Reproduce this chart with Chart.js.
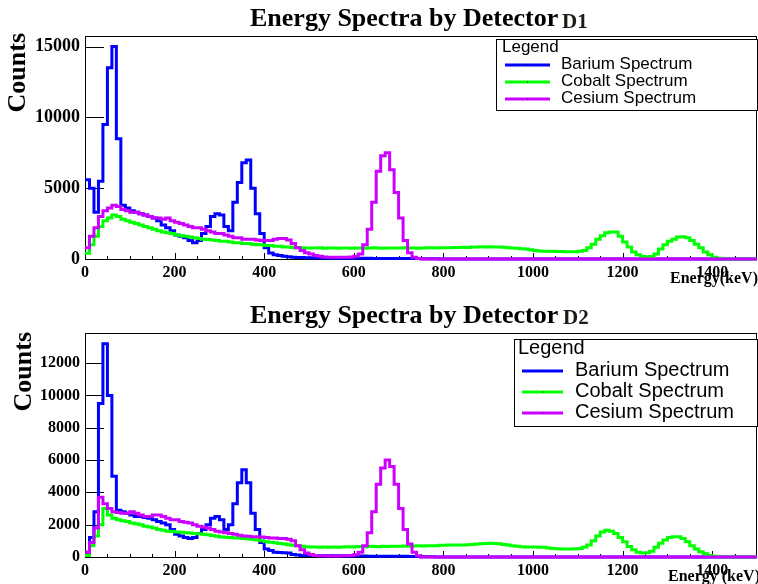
<!DOCTYPE html>
<html>
<head>
<meta charset="utf-8">
<script src="https://cdn.jsdelivr.net/npm/chart.js@4.4.1/dist/chart.umd.min.js"></script>
<style>
  html, body { margin: 0; padding: 0; background: #fff; }
  #wrap { position: relative; width: 758px; height: 584px; overflow: hidden; background: #fff; }
  canvas { position: absolute; left: 0; }
</style>
</head>
<body>
<div id="wrap">
  <canvas id="d1" width="758" height="292" style="top:0;width:758px;height:292px"></canvas>
  <canvas id="d2" width="758" height="292" style="top:292px;width:758px;height:292px"></canvas>
</div>
<script>
// Histogram binning: 150 bins of 10 keV from 0 to 1500 keV
const BIN_WIDTH = 10;
const ENERGY_MAX = 1500;

const seriesNames = ['Barium Spectrum', 'Cobalt Spectrum', 'Cesium Spectrum'];
const seriesColors = ['#0000ff', '#00ff00', '#cc00ff'];

const energyTicks = [0, 200, 400, 600, 800, 1000, 1200, 1400];
const d1CountTicks = [0, 5000, 10000, 15000];
const d2CountTicks = [0, 2000, 4000, 6000, 8000, 10000, 12000];
const d1CountMax = 15750;
const d2CountMax = 13860;

// ---- Detector D1 counts per bin ----
const d1Barium = [
  5600, 5000, 3300, 5500, 9500, 13500, 15000, 8500, 3800, 3600,
  3400, 3300, 3200, 3100, 3000, 2900, 2700, 2400, 2200, 2000,
  1700, 1600, 1500, 1300, 1150, 1300, 1800, 2300, 3000, 3200,
  3100, 2300, 2000, 4000, 5400, 6800, 7000, 5000, 3200, 1800,
  800, 420, 300, 250, 200, 160, 130, 110, 100, 90,
  80, 80, 70, 70, 70, 60, 60, 60, 60, 50,
  50, 50, 50, 50, 40, 40, 40, 40, 40, 40,
  40, 30, 30, 30, 30, 20, 20, 10, 10, 0,
  0, 0, 0, 0, 0, 0, 0, 0, 0, 0,
  0, 0, 0, 0, 0, 0, 0, 0, 0, 0,
  0, 0, 0, 0, 0, 0, 0, 0, 0, 0,
  0, 0, 0, 0, 0, 0, 0, 0, 0, 0,
  0, 0, 0, 0, 0, 0, 0, 0, 0, 0,
  0, 0, 0, 0, 0, 0, 0, 0, 0, 0,
  0, 0, 0, 0, 0, 0, 0, 0, 0, 0
];
const d1Cobalt = [
  400, 1000, 1600, 2300, 2700, 2900, 3100, 3000, 2800, 2700,
  2600, 2500, 2400, 2300, 2200, 2100, 2000, 1900, 1850, 1800,
  1700, 1650, 1600, 1550, 1500, 1450, 1400, 1380, 1350, 1300,
  1250, 1250, 1200, 1150, 1150, 1100, 1100, 1050, 1000, 1000,
  950, 950, 900, 900, 850, 850, 820, 800, 800, 780,
  780, 770, 790, 760, 780, 770, 760, 780, 770, 760,
  780, 770, 760, 780, 790, 770, 760, 780, 770, 780,
  770, 790, 780, 770, 760, 780, 790, 800, 780, 790,
  800, 790, 810, 820, 830, 820, 840, 850, 860, 850,
  860, 850, 840, 830, 800, 780, 760, 720, 700, 650,
  600, 560, 550, 540, 540, 530, 530, 520, 520, 520,
  540, 600, 800, 1050, 1400, 1650, 1850, 1900, 1900, 1600,
  1200, 850, 500, 300, 180, 150, 170, 350, 700, 1000,
  1250, 1400, 1550, 1580, 1500, 1300, 1050, 800, 500, 300,
  120, 50, 10, 0, 0, 0, 0, 0, 0, 0
];
const d1Cesium = [
  800, 1600, 2200, 3000, 3400, 3600, 3800, 3700, 3500, 3400,
  3300, 3300, 3200, 3100, 3000, 2900, 2900, 2800, 2900, 2700,
  2600, 2500, 2400, 2300, 2200, 2200, 2100, 2000, 1900, 1800,
  1800, 1700, 1600, 1500, 1500, 1400, 1400, 1400, 1350, 1300,
  1300, 1300, 1400, 1450, 1450, 1350, 1100, 800, 600, 450,
  350, 250, 200, 150, 130, 120, 120, 120, 130, 150,
  200, 350, 1000, 2100, 4000, 6200, 7300, 7500, 6300, 4700,
  2900, 1300, 450, 120, 30, 0, 0, 0, 0, 0,
  0, 0, 0, 0, 0, 0, 0, 0, 0, 0,
  0, 0, 0, 0, 0, 0, 0, 0, 0, 0,
  0, 0, 0, 0, 0, 0, 0, 0, 0, 0,
  0, 0, 0, 0, 0, 0, 0, 0, 0, 0,
  0, 0, 0, 0, 0, 0, 0, 0, 0, 0,
  0, 0, 0, 0, 0, 0, 0, 0, 0, 0,
  0, 0, 0, 0, 0, 0, 0, 0, 0, 0
];

// ---- Detector D2 counts per bin ----
const d2Barium = [
  300, 1200, 2800, 9500, 13200, 10000, 5000, 2900, 2800, 2700,
  2600, 2500, 2500, 2450, 2400, 2300, 2200, 2100, 2000, 1700,
  1400, 1300, 1200, 1150, 1200, 1450, 1700, 2000, 2400, 2500,
  2300, 1700, 2000, 3300, 4600, 5400, 4600, 2700, 1700, 900,
  500, 400, 300, 280, 260, 250, 150, 120, 100, 100,
  90, 90, 80, 80, 80, 70, 70, 70, 60, 60,
  60, 60, 60, 50, 50, 50, 50, 50, 50, 40,
  40, 40, 30, 30, 30, 20, 20, 10, 0, 0,
  0, 0, 0, 0, 0, 0, 0, 0, 0, 0,
  0, 0, 0, 0, 0, 0, 0, 0, 0, 0,
  0, 0, 0, 0, 0, 0, 0, 0, 0, 0,
  0, 0, 0, 0, 0, 0, 0, 0, 0, 0,
  0, 0, 0, 0, 0, 0, 0, 0, 0, 0,
  0, 0, 0, 0, 0, 0, 0, 0, 0, 0,
  0, 0, 0, 0, 0, 0, 0, 0, 0, 0
];
const d2Cobalt = [
  100, 700, 1300, 2000, 3000, 2600, 2400, 2300, 2250, 2200,
  2100, 2050, 2000, 1900, 1850, 1800, 1700, 1650, 1600, 1580,
  1550, 1530, 1500, 1480, 1460, 1440, 1400, 1370, 1330, 1280,
  1240, 1220, 1200, 1180, 1170, 1150, 1120, 1080, 1050, 1000,
  950, 920, 880, 840, 800, 760, 720, 690, 660, 640,
  620, 620, 610, 620, 600, 620, 610, 620, 630, 620,
  640, 650, 640, 660, 650, 640, 660, 650, 670, 660,
  660, 680, 670, 680, 690, 680, 700, 690, 700, 720,
  730, 740, 740, 750, 740, 760, 780, 800, 820, 840,
  850, 840, 820, 780, 740, 700, 660, 640, 620, 620,
  620, 610, 600, 560, 520, 510, 500, 500, 500, 510,
  520, 600, 750, 1000, 1300, 1550, 1650, 1600, 1450, 1200,
  950, 650, 450, 300, 250, 260, 350, 600, 850, 1050,
  1200, 1250, 1250, 1150, 950, 700, 500, 330, 200, 100,
  50, 10, 0, 0, 0, 0, 0, 0, 0, 0
];
const d2Cesium = [
  300, 900, 1800, 3700, 3300, 3000, 2800, 2750, 2700, 2700,
  2800, 2700, 2600, 2500, 2500, 2600, 2600, 2500, 2400, 2300,
  2300, 2200, 2150, 2100, 2000, 1900, 1850, 1800, 1700, 1600,
  1550, 1500, 1450, 1400, 1350, 1300, 1280, 1250, 1250, 1230,
  1200, 1180, 1180, 1150, 1150, 1100, 1000, 700, 450, 250,
  150, 100, 80, 70, 60, 60, 60, 70, 80, 100,
  150, 300, 700, 1500, 2800, 4500, 5500, 6000, 5600, 4500,
  3000, 1700, 800, 300, 80, 0, 0, 0, 0, 0,
  0, 0, 0, 0, 0, 0, 0, 0, 0, 0,
  0, 0, 0, 0, 0, 0, 0, 0, 0, 0,
  0, 0, 0, 0, 0, 0, 0, 0, 0, 0,
  0, 0, 0, 0, 0, 0, 0, 0, 0, 0,
  0, 0, 0, 0, 0, 0, 0, 0, 0, 0,
  0, 0, 0, 0, 0, 0, 0, 0, 0, 0,
  0, 0, 0, 0, 0, 0, 0, 0, 0, 0
];

const SERIF = '"Liberation Serif", "Times New Roman", serif';
const SANS = '"Liberation Sans", Arial, sans-serif';

// Turn per-bin counts into step points at the lower bin edges (+ closing edge)
function histPoints(counts) {
  const pts = counts.map((c, i) => ({ x: i * BIN_WIDTH, y: c }));
  pts.push({ x: counts.length * BIN_WIDTH, y: counts[counts.length - 1] });
  return pts;
}

// Frame, inward tick marks, titles and the boxed legend
const spectrumDecor = {
  id: 'spectrumDecor',
  beforeDatasetsDraw(chart, args, o) {
    const { ctx, chartArea: a } = chart;
    const xs = chart.scales.x, ys = chart.scales.y;
    ctx.save();
    ctx.strokeStyle = '#000';
    ctx.lineWidth = 1;
    ctx.strokeRect(a.left + 0.5, a.top + 0.5, a.right - a.left - 1, a.bottom - a.top);
    ctx.beginPath();
    ys.ticks.forEach(t => {
      const py = Math.round(ys.getPixelForValue(t.value)) + 0.5;
      ctx.moveTo(a.left, py); ctx.lineTo(a.left + o.yTickLen, py);
    });
    xs.ticks.forEach(t => {
      const px = Math.round(xs.getPixelForValue(t.value)) + 0.5;
      ctx.moveTo(px, a.bottom); ctx.lineTo(px, a.bottom - 6);
    });
    for (let e = 50; e < xs.max; e += 50) {
      if (e % 200 === 0) continue;
      const px = Math.round(xs.getPixelForValue(e)) + 0.5;
      ctx.moveTo(px, a.bottom); ctx.lineTo(px, a.bottom - 3);
    }
    ctx.stroke();
    ctx.restore();
  },
  afterDraw(chart, args, o) {
    const { ctx } = chart;
    ctx.save();
    ctx.fillStyle = '#000';
    ctx.textBaseline = 'alphabetic';
    // main title
    ctx.textAlign = 'left';
    ctx.font = 'bold 26px ' + SERIF;
    ctx.fillText(o.title, o.titleX, o.titleY);
    ctx.font = 'bold 21px ' + SERIF;
    ctx.fillStyle = '#1e1a16';
    ctx.fillText(o.tag, o.tagX, o.tagY);
    ctx.fillStyle = '#000';
    // y axis title
    ctx.save();
    ctx.translate(o.yTitleX, o.yTitleTop);
    ctx.rotate(-Math.PI / 2);
    ctx.textAlign = 'right';
    ctx.font = 'bold 26px ' + SERIF;
    ctx.fillText(o.yTitle, 0, 0);
    ctx.restore();
    // x axis title
    ctx.textAlign = 'right';
    ctx.font = 'bold 16px ' + SERIF;
    ctx.fillText(o.xTitle, o.xTitleRight, o.xTitleY);
    // legend box
    const L = o.legend;
    ctx.fillStyle = '#fff';
    ctx.fillRect(L.left, L.top, L.right - L.left, L.bottom - L.top);
    ctx.strokeStyle = '#000';
    ctx.lineWidth = 1;
    ctx.strokeRect(L.left + 0.5, L.top + 0.5, L.right - L.left - 1, L.bottom - L.top - 1);
    ctx.fillStyle = '#000';
    ctx.textAlign = 'left';
    ctx.font = L.fontSize + 'px ' + SANS;
    ctx.fillText('Legend', L.headerX, L.headerY);
    chart.data.datasets.forEach((ds, i) => {
      const ry = L.rowY + i * L.rowGap;
      ctx.strokeStyle = ds.borderColor;
      ctx.lineWidth = 3;
      ctx.beginPath();
      ctx.moveTo(L.lineX0, ry); ctx.lineTo(L.lineX1, ry);
      ctx.stroke();
      ctx.fillStyle = '#000';
      ctx.fillRect((L.lineX0 + L.lineX1) / 2 - 0.5, ry - 0.5, 1, 1);
      ctx.textBaseline = 'middle';
      ctx.fillText(ds.label, L.textX, ry - 1);
      ctx.textBaseline = 'alphabetic';
    });
    ctx.restore();
  }
};

function makeChart(id, series, countTicks, countMax, geo, decor) {
  const datasets = series.map((counts, i) => ({
    label: seriesNames[i],
    data: histPoints(counts),
    borderColor: seriesColors[i],
    backgroundColor: seriesColors[i],
    borderWidth: 3,
    stepped: 'before',
    fill: false,
    pointRadius: 0,
    clip: 4,
    order: series.length - 1 - i
  }));
  const tickFont = (size) => ({ family: SERIF, weight: 'bold', size });
  return new Chart(document.getElementById(id), {
    type: 'line',
    data: { datasets },
    options: {
      responsive: false,
      animation: false,
      events: [],
      layout: { padding: { top: geo.top, right: 1, left: 0, bottom: 0 } },
      plugins: {
        legend: { display: false },
        tooltip: { enabled: false },
        title: { display: false },
        spectrumDecor: decor
      },
      scales: {
        x: {
          type: 'linear', min: 0, max: ENERGY_MAX,
          afterBuildTicks: s => { s.ticks = energyTicks.map(v => ({ value: v })); },
          afterFit: s => { s.height = geo.xAxisH; },
          grid: { display: false, drawTicks: false },
          border: { display: false },
          ticks: { font: tickFont(16), color: '#000', padding: 4, maxRotation: 0, autoSkip: false,
                   callback: v => String(v) }
        },
        y: {
          type: 'linear', min: 0, max: countMax,
          afterBuildTicks: s => { s.ticks = countTicks.map(v => ({ value: v })); },
          afterFit: s => { s.width = 85; },
          grid: { display: false, drawTicks: false },
          border: { display: false },
          ticks: { font: tickFont(geo.yFont), color: '#000', padding: 5, autoSkip: false,
                   callback: v => String(v) }
        }
      }
    },
    plugins: [spectrumDecor]
  });
}

makeChart('d1', [d1Barium, d1Cobalt, d1Cesium], d1CountTicks, d1CountMax,
  { top: 36, xAxisH: 33, yFont: 18 },
  {
    title: 'Energy Spectra by Detector', titleX: 250, titleY: 26,
    tag: 'D1', tagX: 562, tagY: 28,
    yTitle: 'Counts', yTitleX: 25, yTitleTop: 33,
    xTitle: 'Energy(keV)', xTitleRight: 758, xTitleY: 283,
    yTickLen: 19,
    legend: { left: 496, top: 39, right: 758, bottom: 111, fontSize: 17,
              headerX: 502, headerY: 52, rowY: 65, rowGap: 17,
              lineX0: 505, lineX1: 550, textX: 561 }
  });

makeChart('d2', [d2Barium, d2Cobalt, d2Cesium], d2CountTicks, d2CountMax,
  { top: 41, xAxisH: 27, yFont: 16 },
  {
    title: 'Energy Spectra by Detector', titleX: 250, titleY: 31,
    tag: 'D2', tagX: 563, tagY: 32,
    yTitle: 'Counts', yTitleX: 31, yTitleTop: 40,
    xTitle: 'Energy (keV)', xTitleRight: 760, xTitleY: 289,
    yTickLen: 19,
    legend: { left: 514, top: 47, right: 758, bottom: 135, fontSize: 20,
              headerX: 518, headerY: 62, rowY: 79, rowGap: 21,
              lineX0: 522, lineX1: 563, textX: 575 }
  });
</script>
</body>
</html>
